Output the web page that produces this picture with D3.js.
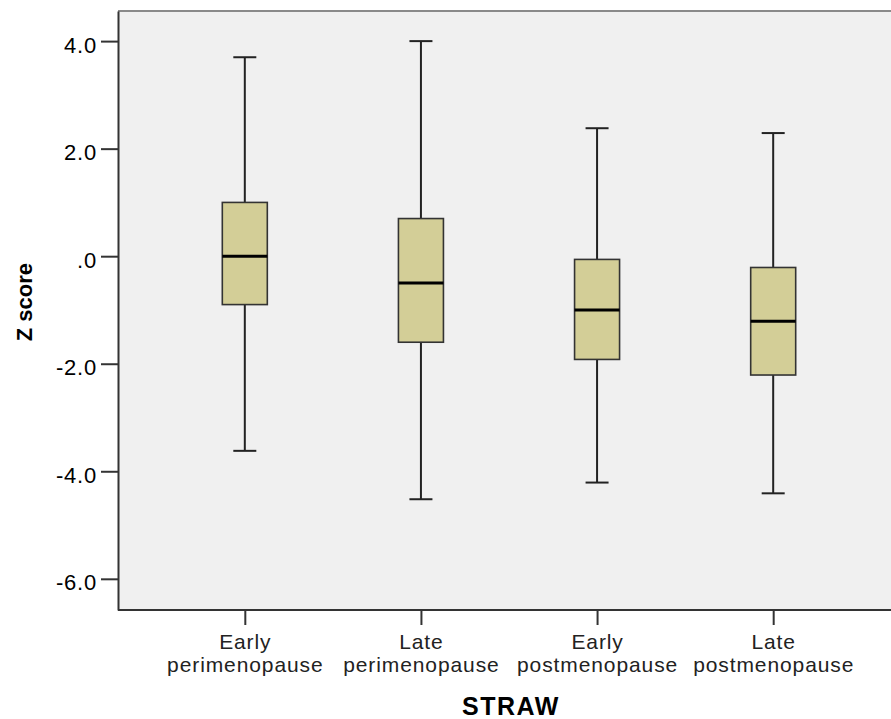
<!DOCTYPE html>
<html>
<head>
<meta charset="utf-8">
<script src="https://cdn.jsdelivr.net/npm/d3@7"></script>
<style>
  body { margin: 0; background: #fff; }
  svg { display: block; font-family: Arial, "Liberation Sans", sans-serif; }
</style>
</head>
<body>
<div id="chart"></div>
<script>
// data
var categories = ["Early perimenopause", "Late perimenopause", "Early postmenopause", "Late postmenopause"];
var whiskerHigh = [3.7, 4.0, 2.38, 2.29];
var q3Values = [1.0, 0.7, -0.06, -0.21];
var medians = [0.0, -0.5, -1.0, -1.21];
var q1Values = [-0.9, -1.6, -1.92, -2.21];
var whiskerLow = [-3.62, -4.52, -4.21, -4.41];
var yTicks = [4, 2, 0, -2, -4, -6];
var yTickLabels = ["4.0", "2.0", ".0", "-2.0", "-4.0", "-6.0"];

var svgWidth = 891;
var svgHeight = 719;
var margin = { top: 11, right: 0, bottom: 109, left: 118 };
var width = svgWidth - margin.left - margin.right;
var height = svgHeight - margin.top - margin.bottom;

var svg = d3.select("#chart")
  .append("svg")
  .attr("width", svgWidth)
  .attr("height", svgHeight);

var chartGroup = svg.append("g")
  .attr("transform", `translate(${margin.left}, ${margin.top})`);

// plot background
chartGroup.append("rect")
  .attr("width", width)
  .attr("height", height)
  .attr("fill", "#f0f0f0");

chartGroup.append("line")
  .attr("x1", 0).attr("x2", width)
  .attr("y1", 0).attr("y2", 0)
  .attr("stroke", "#8a8a8a")
  .attr("stroke-width", 2);

// scales
var xScale = d3.scalePoint()
  .domain(categories)
  .range([0, 782])
  .padding(0.72);

var yScale = d3.scaleLinear()
  .domain([-6.58, 4.56])
  .range([height, 0]);

var boxes = categories.map(function(c, i) {
  return { cat: c, hi: whiskerHigh[i], q3: q3Values[i], med: medians[i], q1: q1Values[i], lo: whiskerLow[i] };
});

var boxWidth = 45;
var capWidth = 23;

var g = chartGroup.selectAll(".box")
  .data(boxes)
  .enter()
  .append("g")
  .attr("class", "box")
  .attr("transform", d => `translate(${xScale(d.cat)}, 0)`);

// whiskers
g.append("line")
  .attr("x1", 0).attr("x2", 0)
  .attr("y1", d => yScale(d.hi))
  .attr("y2", d => yScale(d.lo))
  .attr("stroke", "#222")
  .attr("stroke-width", 2);

g.append("line")
  .attr("x1", -capWidth / 2).attr("x2", capWidth / 2)
  .attr("y1", d => yScale(d.hi)).attr("y2", d => yScale(d.hi))
  .attr("stroke", "#222")
  .attr("stroke-width", 2);

g.append("line")
  .attr("x1", -capWidth / 2).attr("x2", capWidth / 2)
  .attr("y1", d => yScale(d.lo)).attr("y2", d => yScale(d.lo))
  .attr("stroke", "#222")
  .attr("stroke-width", 2);

// boxes
g.append("rect")
  .attr("x", -boxWidth / 2)
  .attr("width", boxWidth)
  .attr("y", d => yScale(d.q3))
  .attr("height", d => yScale(d.q1) - yScale(d.q3))
  .attr("fill", "#d3ce97")
  .attr("stroke", "#333")
  .attr("stroke-width", 1.6);

g.append("line")
  .attr("x1", -boxWidth / 2).attr("x2", boxWidth / 2)
  .attr("y1", d => yScale(d.med)).attr("y2", d => yScale(d.med))
  .attr("stroke", "#000")
  .attr("stroke-width", 3);

// axes
var leftAxis = d3.axisLeft(yScale)
  .tickValues(yTicks)
  .tickSize(17)
  .tickSizeOuter(0)
  .tickPadding(4)
  .tickFormat((d, i) => yTickLabels[i]);

var yAxisG = chartGroup.append("g").call(leftAxis);
yAxisG.select(".domain").attr("stroke", "#333").attr("stroke-width", 2);
yAxisG.selectAll(".tick line").attr("stroke", "#333").attr("stroke-width", 2);
yAxisG.selectAll(".tick text")
  .attr("fill", "#000")
  .attr("dy", "0.5em")
  .style("font-size", "22px")
  .style("letter-spacing", "0.8px")
  .style("font-family", "Arial, 'Liberation Sans', sans-serif");

var bottomAxis = d3.axisBottom(xScale)
  .tickSize(15)
  .tickSizeOuter(0)
  .tickFormat("");

var xAxisG = chartGroup.append("g")
  .attr("transform", `translate(0, ${height})`)
  .call(bottomAxis);
xAxisG.select(".domain").attr("stroke", "#333").attr("stroke-width", 2).attr("d", `M0,0H${width}`);
xAxisG.selectAll(".tick line").attr("stroke", "#333").attr("stroke-width", 2);

// two-line category labels
xAxisG.selectAll(".tick")
  .append("text")
  .attr("fill", "#222")
  .attr("text-anchor", "middle")
  .style("font-size", "21px")
  .style("letter-spacing", "0.9px")
  .style("font-family", "Arial, 'Liberation Sans', sans-serif")
  .selectAll("tspan")
  .data(d => d.split(" "))
  .enter()
  .append("tspan")
  .attr("x", 0)
  .attr("y", (d, i) => 39 + i * 23)
  .text(d => d);

// axis titles
chartGroup.append("text")
  .attr("transform", "rotate(-90)")
  .attr("x", -(yScale(0) + 46))
  .attr("y", -86)
  .attr("text-anchor", "middle")
  .style("font-size", "22px")
  .style("font-weight", "bold")
  .text("Z score");

chartGroup.append("text")
  .attr("x", 511 - margin.left)
  .attr("y", height + 105)
  .attr("text-anchor", "middle")
  .style("font-size", "25px")
  .style("letter-spacing", "1.5px")
  .style("font-weight", "bold")
  .text("STRAW");
</script>
</body>
</html>
